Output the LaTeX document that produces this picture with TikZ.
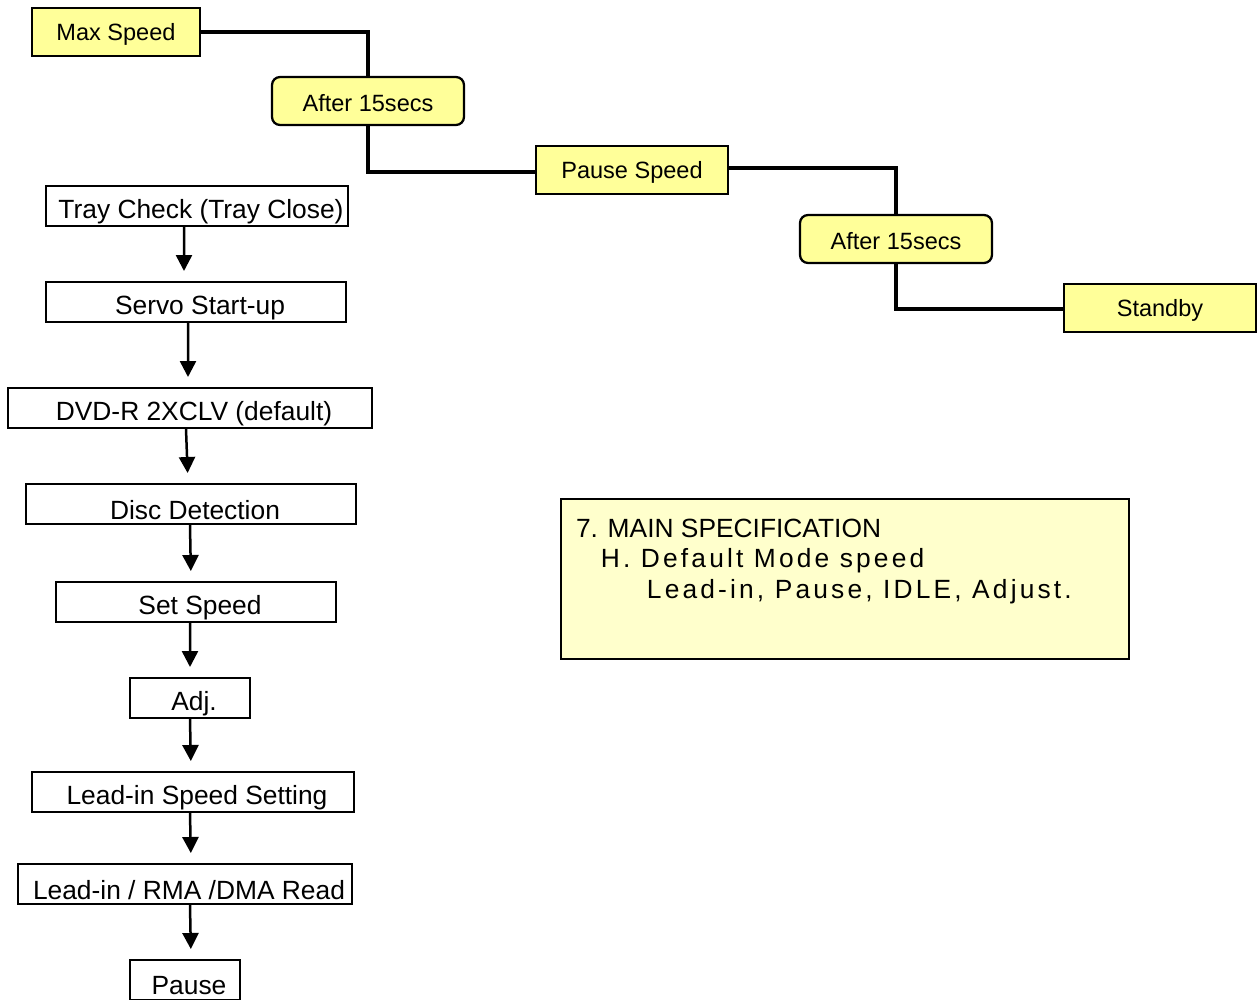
\documentclass[tikz,border=0pt]{standalone}
\usepackage{fontspec}
\setmainfont{Liberation Sans}
\usetikzlibrary{arrows.meta}

\definecolor{speedyellow}{HTML}{FFFF99}
\definecolor{specyellow}{HTML}{FFFFCC}

\tikzset{
  speedbox/.style={draw,line width=0.045cm,fill=speedyellow,minimum width=3.84cm,minimum height=0.96cm,inner sep=0pt,font=\fontsize{13.4}{16}\selectfont},
  waitbox/.style={speedbox,rounded corners=0.16cm},
  flowbox/.style={draw,line width=0.04cm,minimum height=0.8cm,inner sep=0pt,font=\fontsize{15}{18}\selectfont},
  specbox/.style={draw,line width=0.04cm,fill=specyellow,anchor=north west,inner xsep=0.3cm,inner ysep=0.4cm,font=\fontsize{15}{17.4}\selectfont},
  link/.style={line width=0.08cm},
  flow/.style={line width=0.05cm,-{Triangle[width=0.32cm,length=0.32cm]},shorten >=0.2cm}
}
\newcommand{\fbtext}[1]{\hspace*{0.16cm}\raisebox{-0.12cm}[\height][\depth]{#1}}
\newcommand{\sbtext}[1]{\raisebox{-0.05cm}[\height][\depth]{#1}}
\newcommand{\spaced}[1]{{\addfontfeature{LetterSpace=12}#1}}

\begin{document}
\begin{tikzpicture}[x=0.02cm,y=-0.02cm]

\useasboundingbox (0,0) rectangle (1258,1000);

% speed steps
\node[speedbox,minimum width=3.36cm] (maxspeed) at (116,32) {\sbtext{Max Speed}};
\node[waitbox] (wait1) at (368,101) {\sbtext{After 15secs}};
\node[speedbox] (pausespeed) at (632,170) {\sbtext{Pause Speed}};
\node[waitbox] (wait2) at (896,239) {\sbtext{After 15secs}};
\node[speedbox] (standby) at (1160,308) {\sbtext{Standby}};

\draw[link] (maxspeed.east) -| (wait1.north);
\draw[link] (wait1.south) |- ([yshift=-0.04cm]pausespeed.west);
\draw[link] ([yshift=0.04cm]pausespeed.east) -| (wait2.north);
\draw[link] (wait2.south) |- ([yshift=-0.02cm]standby.west);

% start-up sequence
\node[flowbox,minimum width=6.04cm] (tray) at (197,206) {\fbtext{Tray Check (Tray Close)}};
\node[flowbox,minimum width=6.0cm] (servo) at (196,302) {\fbtext{Servo Start-up}};
\node[flowbox,minimum width=7.28cm] (dvdr) at (190,408) {\fbtext{DVD-R 2XCLV (default)}};
\node[flowbox,minimum width=6.6cm] (disc) at (191,504) {\fbtext{Disc Detection}};
\node[flowbox,minimum width=5.6cm] (setspeed) at (196,602) {\fbtext{Set Speed}};
\node[flowbox,minimum width=2.4cm] (adj) at (190,698) {\fbtext{Adj.}};
\node[flowbox,minimum width=6.44cm] (leadspeed) at (193,792) {\fbtext{Lead-in Speed Setting}};
\node[flowbox,minimum width=6.68cm] (leadread) at (185,884) {\fbtext{Lead-in / RMA /DMA Read}};
\node[flowbox,minimum width=2.2cm] (pause) at (185,980) {\fbtext{Pause}};

\draw[flow] ([xshift=-0.26cm]tray.south) -- ([xshift=-0.24cm]servo.north);
\draw[flow] ([xshift=-0.16cm]servo.south) -- ([xshift=-0.04cm]dvdr.north);
\draw[flow] ([xshift=-0.08cm]dvdr.south) -- ([xshift=-0.06cm]disc.north);
\draw[flow] ([xshift=-0.02cm]disc.south) -- ([xshift=-0.1cm]setspeed.north);
\draw[flow] ([xshift=-0.12cm]setspeed.south) -- (adj.north);
\draw[flow] (adj.south) -- ([xshift=-0.04cm]leadspeed.north);
\draw[flow] ([xshift=-0.06cm]leadspeed.south) -- ([xshift=0.12cm]leadread.north);
\draw[flow] ([xshift=0.1cm]leadread.south) -- ([xshift=0.12cm]pause.north);

% note
\node[specbox] (spec) at (560,498) {\parbox[t][2.4cm][t]{10.76cm}{7. MAIN SPECIFICATION\\
\hspace*{0.5cm}\spaced{H. Default Mode speed}\\
\hspace*{1.42cm}\spaced{Lead-in, Pause, IDLE, Adjust.}}};

\end{tikzpicture}
\end{document}
